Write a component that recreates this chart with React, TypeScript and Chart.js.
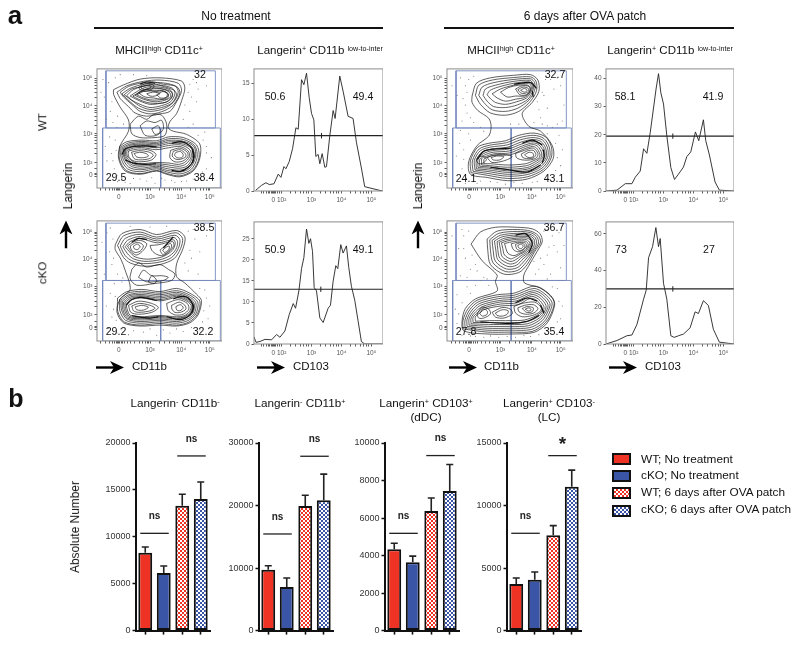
import React, { useEffect, useRef } from "react";
import { Chart, registerables } from "chart.js";

Chart.register(...registerables);

const FONT = '"Liberation Sans", Arial, sans-serif';

// ---------- flow-cytometry contours, read in channel units (x, y, x, y, ...) ----------
const contoursWTNone: number[][] = [
  [50,308,80,323,130,341,190,345,255,335,265,313,255,273,240,233,220,208,215,188,230,178,270,168,310,138,310,93,290,53,250,35,210,43,180,53,130,43,85,53,65,93,70,133,95,178,95,213,70,253,50,293],
  [60,300,90,320,140,334,190,338,245,328,255,305,240,270,220,240,190,232,150,225,115,235,95,255,70,280],
  [70,300,95,318,130,328,165,333,200,325,240,318,250,298,232,262,205,243,165,232,130,240,105,262,80,285],
  [75,295,100,312,140,325,190,330,235,320,245,300,230,268,200,248,160,240,125,250,100,270],
  [82,292,105,310,140,318,170,326,200,318,232,306,240,292,226,266,195,252,160,246,130,256,108,272],
  [90,290,110,308,145,320,190,322,228,312,235,295,222,270,195,258,160,252,130,262,105,275],
  [100,288,125,305,150,316,190,316,222,306,228,290,215,272,190,265,160,262,130,272],
  [108,288,128,300,155,312,190,312,225,300,225,283,205,268,175,265,150,268,125,278],
  [115,290,135,305,165,310,195,310,218,300,222,285,205,275,175,270,140,278],
  [120,292,140,302,165,304,195,305,216,294,208,282,188,276,160,276,135,284],
  [125,298,150,308,175,302,200,304,215,292,212,280,195,278,170,282,145,285],
  [150,295,168,300,190,296,175,288,160,288],
  [125,315,150,328,172,320,160,306,135,304],
  [132,316,150,323,164,317,152,310,138,309],
  [180,292,198,302,212,296,208,284,192,282],
  [100,200,125,225,150,215,170,230,195,228,210,200,205,165,175,158,130,158,105,170],
  [130,195,150,210,175,205,195,212,200,185,180,165,145,165],
  [165,185,185,195,190,175,175,168],
  [68,130,90,145,135,150,180,148,215,160,260,158,300,135,308,95,288,55,250,38,212,45,180,55,130,45,88,55,68,90],
  [72,128,95,141,135,146,180,143,215,154,260,152,295,132,302,95,284,58,250,44,212,50,180,60,130,51,92,60,73,92],
  [76,126,98,137,135,142,180,139,215,149,258,147,292,130,297,95,280,62,250,50,212,55,180,64,130,57,96,65,77,95],
  [80,124,100,134,135,138,180,135,215,144,256,143,288,127,292,95,277,66,250,56,214,60,180,68,130,62,100,70,81,97],
  [83,122,103,131,135,135,180,131,216,139,254,139,285,124,288,97,273,70,250,62,215,66,180,72,130,68,103,74,84,98],
  [86,120,105,128,135,131,180,126,216,133,252,135,280,120,284,97,268,75,248,68,216,72,180,76,130,72,106,78,87,100],
  [90,118,110,125,135,127,178,120,216,126,250,130,275,116,279,98,264,80,245,74,218,78,178,80,130,76,110,82,91,100],
  [95,116,125,122,160,118,178,105,165,88,130,82,108,86,95,100],
  [104,112,125,117,155,113,170,103,158,92,130,88,112,92],
  [112,108,128,112,148,108,155,100,140,95,120,97],
  [222,118,250,125,272,112,274,98,258,84,235,82,220,95],
  [230,115,250,120,266,108,268,98,252,90,238,90,227,100],
  [238,112,252,114,260,104,256,95,242,95,234,103],
];
const contoursKONone: number[][] = [
  [55,302,75,337,130,350,180,334,240,347,265,327,260,292,240,242,240,202,265,182,300,147,315,127,305,82,280,57,240,47,190,50,130,47,80,57,60,92,70,132,100,162,85,222,72,257,55,287],
  [62,300,80,330,130,342,180,326,238,340,258,322,252,290,232,258,190,240,140,235,100,245,80,262],
  [70,298,85,322,130,335,180,320,235,332,250,318,245,290,225,262,190,248,140,243,105,252,85,268],
  [78,296,92,316,130,328,182,314,232,325,243,312,238,288,220,268,190,255,145,250,110,258,92,274],
  [85,296,100,312,130,322,182,308,230,318,236,308,230,288,212,272,190,262,150,257,115,264,98,280],
  [92,298,108,310,130,316,150,305,140,285,120,270,105,278],
  [100,298,115,308,130,308,140,298,130,282,115,278,104,285],
  [110,298,122,304,130,296,122,287,112,290],
  [160,300,185,302,228,312,232,300,222,285,200,268,180,272,165,285],
  [190,285,205,298,222,306,225,295,212,278,198,272],
  [198,285,208,294,218,298,216,286,204,278],
  [105,225,125,245,150,232,190,240,215,225,235,210,225,190,170,180,120,175,100,195],
  [125,200,140,222,165,205,195,205,215,200,200,190,150,186],
  [155,185,165,205,180,190,172,180],
  [62,135,90,155,135,162,190,155,240,165,280,150,310,125,303,85,278,60,240,50,190,55,130,50,82,60,63,92],
  [68,130,92,150,135,156,190,150,240,158,278,145,304,122,298,85,274,64,240,56,190,60,130,56,86,65,69,95],
  [72,128,95,145,135,151,190,145,240,153,275,141,298,120,293,85,270,68,240,61,190,65,130,61,90,69,74,97],
  [76,125,98,142,135,146,190,140,240,148,272,138,293,118,289,87,267,72,240,66,190,69,130,66,92,72,78,98],
  [80,122,100,138,135,142,190,135,240,144,270,134,290,116,285,88,265,74,240,70,190,73,130,70,95,75,82,100],
  [84,120,102,134,135,139,190,130,240,140,268,131,287,114,282,90,263,76,240,72,190,77,130,73,97,78,86,102],
  [88,118,105,130,135,135,190,126,240,136,266,128,284,112,279,92,262,79,240,76,190,80,130,76,100,81,90,103],
  [95,112,125,125,165,118,185,105,165,90,125,84,102,90],
  [105,110,128,118,160,112,175,103,158,94,125,90,110,95],
  [115,107,135,112,155,106,140,97,120,98],
  [210,118,245,130,272,118,277,100,260,84,235,82,215,95],
  [225,112,248,122,265,112,268,100,252,90,235,90,226,100],
  [238,108,252,114,260,104,250,95,240,98],
];
const contoursWTPatch: number[][] = [
  [75,288,88,328,130,345,200,353,250,355,272,338,275,303,255,268,225,233,245,193,280,178,315,133,318,93,290,53,240,28,180,23,120,33,70,43,65,83,90,133,125,163,132,193,125,218,92,243,75,268],
  [85,290,95,322,135,338,200,346,250,348,266,335,268,305,250,272,215,240,175,228,130,235,100,262],
  [95,290,105,316,140,330,200,340,250,342,262,330,262,305,245,275,212,250,175,240,135,245,110,268],
  [108,290,115,310,145,322,200,334,248,337,258,326,257,305,242,278,210,260,175,252,140,255,120,272],
  [120,292,128,305,150,315,200,328,246,332,255,322,253,305,238,282,208,270,175,262,145,268,130,280],
  [135,295,160,310,200,322,244,328,252,318,250,305,235,285,205,278,175,272,150,282],
  [160,300,185,315,215,322,242,322,250,312,245,298,232,288,205,288,180,285],
  [205,310,225,320,245,318,248,305,238,292,218,292],
  [212,308,228,316,243,312,244,303,232,296,220,298],
  [220,306,232,312,240,306,232,300],
  [72,48,70,85,92,128,125,140,175,148,215,165,260,172,295,160,312,130,312,95,288,58,240,35,180,30,120,40],
  [78,52,76,85,96,122,128,134,178,142,218,158,260,165,290,155,306,128,307,95,284,62,240,42,180,37,120,46],
  [84,56,82,87,100,117,130,128,180,135,220,151,258,158,286,150,301,125,301,95,280,66,240,48,180,43,120,52],
  [88,60,88,88,104,112,133,122,182,128,222,144,258,152,282,145,296,122,296,95,276,70,240,54,180,49,122,57],
  [93,64,93,90,108,107,135,117,184,122,224,138,258,146,278,140,292,118,291,95,272,74,240,59,180,54,124,62],
  [98,68,98,90,112,103,138,112,186,116,226,132,258,141,275,135,288,114,286,95,268,78,240,64,180,59,126,66],
  [104,72,104,92,116,99,140,107,188,110,228,127,258,136,272,130,283,110,281,95,264,82,238,70,180,65,128,70],
  [110,76,112,92,140,102,190,104,230,122,256,130,268,125,278,106,276,95,260,86,235,76,180,72,130,76],
  [205,108,232,118,258,125,272,108,268,95,250,88,225,88,208,95],
  [222,106,240,116,258,118,266,105,258,94,238,92,226,96],
  [232,104,246,112,258,108,258,98,242,96],
  [120,95,140,103,175,105,195,98,170,85,135,80],
  [132,95,148,100,170,98,158,88,138,88],
  [88,85,92,95,106,100,118,90,108,78,95,76],
];
const contoursKOPatch: number[][] = [
  [72,304,100,342,145,357,210,357,255,352,278,337,285,312,270,282,245,237,230,207,232,182,280,167,315,137,322,112,300,57,260,27,190,22,120,22,50,32,45,62,55,102,85,132,150,157,145,187,150,207,105,252],
  [120,320,150,345,210,350,250,345,272,332,280,310,262,280,240,240,215,215,170,210,130,240,122,285],
  [128,318,155,338,210,344,250,340,268,328,274,308,258,280,236,246,212,222,175,218,138,245,130,285],
  [135,316,160,332,210,338,248,335,264,324,268,306,254,280,232,252,210,230,178,226,145,250,138,285],
  [142,314,165,327,210,333,246,331,260,320,262,304,250,280,228,258,208,238,182,234,152,255,146,286],
  [150,312,170,322,210,328,244,327,256,316,256,302,246,280,224,263,206,246,186,242,158,260,152,287],
  [156,310,175,318,210,323,240,323,252,312,250,300,242,282,222,268,204,254,188,250,165,265,160,288],
  [163,308,180,314,208,319,238,318,248,308,245,298,238,284,220,273,202,262,190,258,172,270,167,290],
  [172,306,188,310,210,314,236,313,243,304,240,294,233,284,218,276,200,268,182,276],
  [192,305,212,310,234,308,238,298,228,286,212,280,198,288],
  [205,303,220,308,232,302,232,292,220,284,208,290],
  [212,300,222,304,228,298,222,290,214,293],
  [48,38,48,65,62,100,90,128,150,145,200,150,260,172,295,155,320,125,315,95,295,58,255,30,190,28,120,28],
  [54,42,54,66,68,98,94,123,152,139,202,144,260,165,290,150,314,122,309,95,290,60,252,36,190,34,120,34],
  [60,46,60,68,74,96,98,118,154,133,204,138,258,158,286,146,308,118,303,95,285,64,248,42,190,40,120,40],
  [66,50,66,70,80,94,102,113,156,127,206,132,256,152,282,141,302,115,298,95,280,68,244,48,190,46,122,46],
  [72,54,72,72,86,92,106,108,158,122,208,126,254,146,278,136,296,112,293,95,276,72,240,54,190,52,124,52],
  [78,58,78,74,92,90,110,104,160,116,210,120,252,140,274,131,290,108,288,95,272,76,236,60,190,58,126,58],
  [85,62,85,76,98,88,114,100,162,110,212,114,250,134,270,126,285,104,283,93,268,80,232,66,190,64,128,64],
  [90,84,105,106,125,100,130,85,110,72,95,72],
  [98,86,108,100,120,95,120,84,106,78],
  [135,90,165,105,190,100,195,85,170,72,145,75],
  [145,88,165,98,183,95,180,84,165,78,150,80],
  [200,108,225,118,262,122,282,105,278,92,255,80,225,76,205,88],
  [212,104,232,112,258,114,272,102,260,88,235,84,215,92],
  [225,102,240,108,258,104,255,92,238,90],
  [234,100,245,104,252,98,244,94],
];

// ---------- the darkest contour bands, where lines merge ----------
const rimsWTNone = [
  [75,105,85,122,110,130,145,132,180,128],
  [85,88,110,78,145,74,178,76],
  [225,140,255,145,280,132,292,110,290,85,275,65,252,52,225,55],
  [287,118,292,100,288,78],
  [130,326,150,332,175,328],
];
const rimsKONone = [
  [88,112,105,130,130,137,160,132,180,127],
  [105,80,135,74,160,72,185,76],
  [230,132,255,140,275,135,290,107,280,82,250,67,210,77],
  [288,118,291,105,286,88],
  [200,292,230,327],
  [105,310,125,322,150,318],
];
const rimsWTPatch = [
  [288,120,291,100,285,78],
  [200,325,250,330,268,312],
  [255,305,258,285],
  [130,65,180,58,240,50,280,72],
  [90,90,110,115,140,122,190,125],
  [225,140,255,150,285,135],
];
const rimsKOPatch = [
  [205,332,235,337,255,307,245,277],
  [280,112,290,87],
  [205,120,240,135,270,125],
  [100,60,190,55,240,62,275,80],
];

// ---------- scattered events outside the contours ----------
const dotsWTNone = [12,300,22,285,35,330,40,240,28,215,48,205,60,190,38,160,25,130,44,108,30,85,52,60,40,25,62,20,85,18,110,30,150,22,175,15,205,25,235,18,270,22,310,30,330,60,345,95,330,130,325,175,290,200,280,240,300,270,275,300,330,320,290,340,70,355,110,355,150,352,18,340,55,345,45,270,62,225,80,200,55,150,58,118,48,85,60,40,75,30,100,14,130,28,165,32,195,30,225,24,255,20,290,28,318,50,330,110,320,150,305,165,275,190,260,215,265,260,285,285,305,310,280,325,300,330];
const dotsKONone = [15,310,30,340,38,280,45,240,22,210,52,180,40,150,28,110,45,75,35,40,60,25,95,20,140,28,180,18,220,25,260,30,310,35,335,70,340,110,325,160,290,190,275,220,305,210,285,260,310,280,330,330,290,350,100,360,160,358,75,185,48,320,40,355,62,210,78,198,55,140,50,100,58,65,72,38,110,32,160,38,200,35,240,38,285,42,318,60,322,95,330,135,310,165,265,245,280,285,295,320,275,345,210,360,50,260];
const dotsWTPatch = [15,320,30,290,40,345,55,260,45,210,65,170,38,140,28,100,45,60,55,15,90,15,130,20,175,12,225,15,270,20,320,35,340,70,345,120,335,165,300,195,280,220,300,250,290,290,320,310,330,345,295,340,60,300,70,220,100,190,190,200,260,205,275,245,40,180,50,120,330,200,350,260,65,340,55,320,80,350,48,280,60,235,80,205,110,178,70,150,50,90,58,30,100,22,150,18,200,18,255,18,300,30,325,55,330,95,325,140,300,170,315,190,285,200,270,270,285,300,310,340,340,320,345,210,215,200];
const dotsKOPatch = [15,330,35,290,45,350,55,260,70,225,40,205,60,170,30,145,25,100,30,55,45,18,85,14,130,16,180,14,230,18,275,20,320,40,340,70,345,110,330,165,300,195,265,210,290,240,300,270,320,300,335,340,300,350,90,220,110,200,85,175,125,175,60,200,340,230,260,250,310,210,345,190,50,330,65,345,50,290,75,270,85,240,100,190,120,195,70,150,45,120,35,85,38,30,70,16,110,12,155,12,205,12,250,14,300,30,330,60,335,125,315,170,285,190,275,225,280,260,305,295,315,330,290,345,330,280,350,300];

// ---------- gates ----------
const gateTop = [27, 188, 357, 367];
const gateTopKO = [27, 190, 357, 370];
const gateSplitX = 192;
const gateLeft = 17;
const gateRight = 372;
const gateBottom = 0;

// ---------- contour axes ----------
const contourXTicks = [66, 160, 254, 340];
const contourYTicksTop = [343, 257, 170, 79, 41];
const contourYTicksBottom = [342, 257, 172, 82, 41];
const contourXLabels = ["0", "10³", "10⁴", "10⁵"];
const contourYLabels = ["10⁵", "10⁴", "10³", "10²", "0"];
const contourXMinor = [12, 26, 38, 48, 54, 59, 63, 69, 73, 78, 84, 92, 102, 114, 128, 138, 146, 152, 156, 188, 205, 218, 230, 238, 244, 249, 282, 298, 311, 322, 330, 336];
const contourYMinor = [108, 125, 140, 150, 158, 164, 196, 212, 225, 235, 243, 250, 283, 300, 312, 322, 330, 337, 60, 35, 46];

// ---------- histograms (x in channel units, y = % of max) ----------
const histWTNoneX = [5,23,36,46,60,73,81,90,96,106,116,126,133,143,150,158,166,173,180,186,193,198,205,213,218,228,238,244,258,268,283,298,308,323,333,386];
const histWTNoneY = [0.1,0.8,1.15,0.9,1,2.35,1.9,3.4,3.1,4.1,5.9,8.8,8.6,15.5,14.8,16.4,13,10.8,9.9,4.8,5.1,3.8,5.2,3.3,3.4,7.7,11.2,10.1,16,13.9,10.4,10.1,6.8,3.2,0.6,0];
const histKONoneX = [0,6,18,33,53,68,78,93,106,118,125,135,143,150,158,165,170,176,181,188,198,208,223,230,238,246,252,261,268,278,285,293,303,313,323,333,386];
const histKONoneY = [1.7,0.4,0.6,1.1,1,2.25,1.6,3.1,7,9.6,8.5,12.6,17.9,20.5,27.3,23.9,25,22,13.4,12.6,6.2,5.1,8.5,9.2,14.9,18.6,17.9,23.6,21.6,23.3,18.2,13.7,10.4,5.5,0.6,0,0];
const histWTPatchX = [0,33,58,78,88,103,113,123,133,151,158,165,173,183,195,206,218,233,243,255,269,279,293,300,311,328,341,385];
const histWTPatchY = [0,0.3,2.6,2.6,4.9,7.1,15,13.4,20.7,36.6,41.7,34.9,30.9,19.6,8.3,4.1,6,8.5,12.2,13.9,21,17.9,25.3,17.9,12.8,3.2,0.3,0];
const histKOPatchX = [0,33,63,78,93,113,121,128,140,150,158,163,173,183,195,205,218,233,253,268,278,293,308,323,341,385];
const histKOPatchY = [0,1.9,4.5,4.9,10.6,24.4,29.3,47,53,63.4,53,57.4,33,24.4,4.5,3.6,4.5,5.4,8.8,17.5,16.6,23.6,21,8,1,0];
const histXTicks = [58, 83, 173, 263, 353];
const histXLabels = ["0", "10²", "10³", "10⁴", "10⁵"];
const histXMinor = [22, 30, 37, 43, 48, 52, 55, 61, 65, 70, 76, 110, 126, 140, 150, 158, 165, 200, 216, 230, 240, 248, 255, 290, 306, 320, 330, 338, 345];

// ---------- bars ----------
const barCategories = ["WT; No treatment", "cKO; No treatment", "WT; 6 days after OVA patch", "cKO; 6 days after OVA patch"];
const bars1 = [8290, 6140, 13300, 14040];
const bars1Err = [8920, 6880, 14530, 15840];
const bars2 = [9740, 6980, 19940, 20850];
const bars2Err = [10370, 8410, 21640, 25030];
const bars3 = [4340, 3650, 6380, 7440];
const bars3Err = [4660, 3970, 7070, 8850];
const bars4 = [3730, 4070, 7620, 11510];
const bars4Err = [4210, 4680, 8390, 12830];
const sig1 = [10370, 18620];
const sig2 = [15450, 27880];
const sig3 = [5185, 9330];
const sig4 = [7780, 13990];
const sigLabels4 = ["ns", "*"];
const sigLabels = ["ns", "ns"];

const RED = "#EE3324";
const BLUE = "#3A55A5";
const INK = "#111111";

function pairs(flat: number[]) {
  const out: { x: number; y: number }[] = [];
  for (let i = 0; i < flat.length; i += 2) out.push({ x: flat[i], y: flat[i + 1] });
  return out;
}

function rect(l: number, b: number, r: number, t: number) {
  return [{ x: l, y: b }, { x: r, y: b }, { x: r, y: t }, { x: l, y: t }, { x: l, y: b }];
}

const framePlugin = {
  id: "frame",
  afterDraw(chart: any) {
    const { ctx, chartArea: a } = chart;
    ctx.save();
    ctx.strokeStyle = "#8b8b8b";
    ctx.lineWidth = 1;
    ctx.strokeRect(a.left, a.top, a.right - a.left, a.bottom - a.top);
    ctx.restore();
  },
};

function fixedAxis(size: number, vertical: boolean) {
  return (s: any) => {
    if (vertical) s.width = size;
    else s.height = size;
  };
}

function tickedScale(opts: {
  max: number;
  majors: number[];
  labels: string[];
  minors: number[];
  vertical: boolean;
  size: number;
}) {
  return {
    type: "linear",
    min: 0,
    max: opts.max,
    afterBuildTicks: (s: any) => {
      s.ticks = [...opts.majors, ...opts.minors].map((value) => ({ value }));
    },
    afterFit: fixedAxis(opts.size, opts.vertical),
    ticks: {
      autoSkip: false,
      maxRotation: 0,
      padding: opts.vertical ? 2 : 3,
      color: "#555",
      font: { size: 6.5, family: FONT },
      callback: (v: number) => {
        const i = opts.majors.indexOf(v);
        return i >= 0 ? opts.labels[i] : "";
      },
    },
    grid: { drawOnChartArea: false, tickLength: 2.5, tickColor: "#333", tickWidth: 0.8 },
    border: { display: false },
  };
}

function contourConfig(rings: number[][], rims: number[][], dots: number[], top: number[], yMax: number, yTicks: number[]) {
  const lineStyle = { showLine: true, pointRadius: 0, tension: 0.3, borderColor: "#1c1c1c", borderWidth: 0.7 };
  const gateStyle = { showLine: true, pointRadius: 0, tension: 0, borderColor: "#7589bd", borderWidth: 0.9 };
  const datasets: any[] = [
    { data: pairs(dots), showLine: false, pointRadius: 0.55, pointBackgroundColor: "#777", pointBorderWidth: 0 },
  ];
  rings.forEach((r) => {
    const pts = pairs(r);
    datasets.push({ ...lineStyle, data: [...pts, pts[0]] });
  });
  rims.forEach((r) => {
    datasets.push({ ...lineStyle, borderWidth: 1.2, borderColor: "#0a0a0a", data: pairs(r) });
  });
  datasets.push({ ...gateStyle, data: rect(top[0], top[1], top[2], top[3]) });
  datasets.push({ ...gateStyle, data: rect(gateLeft, gateBottom, gateSplitX, top[1]) });
  datasets.push({ ...gateStyle, data: rect(gateSplitX, gateBottom, gateRight, top[1]) });
  return {
    type: "scatter",
    data: { datasets },
    plugins: [framePlugin],
    options: {
      animation: false,
      responsive: false,
      layout: { autoPadding: false, padding: 0 },
      plugins: { legend: { display: false }, tooltip: { enabled: false } },
      scales: {
        x: tickedScale({ max: 377, majors: contourXTicks, labels: contourXLabels, minors: contourXMinor, vertical: false, size: 18 }),
        y: tickedScale({ max: yMax, majors: yTicks, labels: contourYLabels, minors: contourYMinor, vertical: true, size: 30 }),
      },
    },
  };
}

function histConfig(xs: number[], ys: number[], xMax: number, yMax: number, yTicks: number[], level: number, mark: number) {
  const line = xs.map((x, i) => ({ x, y: ys[i] }));
  const capH = yMax * 0.022;
  const gate = { showLine: true, pointRadius: 0, borderColor: "#222", borderWidth: 1.2 };
  return {
    type: "scatter",
    data: {
      datasets: [
        { data: line, showLine: true, pointRadius: 0, borderColor: "#222", borderWidth: 0.9, tension: 0 },
        { ...gate, data: [{ x: 0, y: level }, { x: xMax, y: level }] },
        { ...gate, borderWidth: 1, data: [{ x: mark, y: level - capH }, { x: mark, y: level + capH }] },
      ],
    },
    plugins: [framePlugin],
    options: {
      animation: false,
      responsive: false,
      layout: { autoPadding: false, padding: 0 },
      plugins: { legend: { display: false }, tooltip: { enabled: false } },
      scales: {
        x: tickedScale({ max: xMax, majors: histXTicks, labels: histXLabels, minors: histXMinor, vertical: false, size: 18 }),
        y: tickedScale({ max: yMax, majors: yTicks, labels: yTicks.map(String), minors: [], vertical: true, size: 30 }),
      },
    },
  };
}

function checker(color: string) {
  const c = document.createElement("canvas");
  c.width = 4;
  c.height = 4;
  const g = c.getContext("2d")!;
  g.fillStyle = "#fff";
  g.fillRect(0, 0, 4, 4);
  g.fillStyle = color;
  g.fillRect(0, 0, 2, 2);
  g.fillRect(2, 2, 2, 2);
  return g.createPattern(c, "repeat");
}

function barConfig(values: number[], errs: number[], yMax: number, step: number, sig: number[], labels: string[]) {
  const annotate = {
    id: "annotate",
    afterDatasetsDraw(chart: any) {
      const { ctx, scales } = chart;
      const { x, y } = scales;
      ctx.save();
      ctx.strokeStyle = "#222";
      ctx.lineCap = "butt";
      values.forEach((v, i) => {
        const px = x.getPixelForValue(i);
        const y1 = y.getPixelForValue(v);
        const y2 = y.getPixelForValue(errs[i]);
        ctx.lineWidth = 1.6;
        ctx.beginPath();
        ctx.moveTo(px, y1);
        ctx.lineTo(px, y2);
        ctx.moveTo(px - 3.5, y2);
        ctx.lineTo(px + 3.5, y2);
        ctx.stroke();
      });
      sig.forEach((level, k) => {
        const a = x.getPixelForValue(k * 2) - 5;
        const b = x.getPixelForValue(k * 2 + 1) + 5;
        const py = y.getPixelForValue(level);
        ctx.lineWidth = 1.3;
        ctx.beginPath();
        ctx.moveTo(a, py);
        ctx.lineTo(b, py);
        ctx.stroke();
        const star = labels[k] === "*";
        ctx.fillStyle = "#222";
        ctx.font = `bold ${star ? 19 : 10}px ${FONT}`;
        ctx.textAlign = "center";
        ctx.textBaseline = "middle";
        ctx.fillText(labels[k], (a + b) / 2, py + (star ? -11 : -17));
      });
      ctx.restore();
    },
  };
  return {
    type: "bar",
    data: {
      labels: barCategories,
      datasets: [
        {
          data: values,
          backgroundColor: [RED, BLUE, checker(RED), checker(BLUE)],
          borderColor: INK,
          borderWidth: 2,
          borderSkipped: false,
          barPercentage: 0.75,
          categoryPercentage: 1,
        },
      ],
    },
    plugins: [annotate],
    options: {
      animation: false,
      responsive: false,
      layout: { autoPadding: false, padding: { top: 13, left: 0, right: 1, bottom: 0 } },
      plugins: { legend: { display: false }, tooltip: { enabled: false } },
      scales: {
        x: {
          afterFit: fixedAxis(6, false),
          ticks: { callback: () => "", padding: 0, maxRotation: 0, autoSkip: false },
          grid: { offset: false, drawOnChartArea: false, tickLength: 4, tickColor: INK, tickWidth: 1.6 },
          border: { color: INK, width: 2 },
        },
        y: {
          min: 0,
          max: yMax,
          afterFit: fixedAxis(36, true),
          ticks: { stepSize: step, padding: 2, color: "#333", font: { size: 9, family: FONT }, callback: (v: number) => String(v) },
          grid: { drawOnChartArea: false, tickLength: 3.5, tickColor: INK, tickWidth: 1.5 },
          border: { color: INK, width: 2 },
        },
      },
    },
  };
}

function Panel({ left, top, width, height, make }: { left: number; top: number; width: number; height: number; make: () => any }) {
  const ref = useRef<HTMLCanvasElement>(null);
  useEffect(() => {
    const chart = new Chart(ref.current!, make());
    return () => chart.destroy();
  }, []);
  return <canvas ref={ref} width={width} height={height} style={{ position: "absolute", left, top, width, height }} />;
}

function T({ x, y, size = 11, bold, rot, left, children }: any) {
  return (
    <div
      style={{
        position: "absolute",
        left: x,
        top: y,
        transform: `translate(${left ? "0" : "-50%"},-50%)${rot ? ` rotate(${rot}deg)` : ""}`,
        willChange: "transform",
        fontFamily: FONT,
        fontSize: size,
        fontWeight: bold ? 700 : 400,
        lineHeight: 1,
        whiteSpace: "nowrap",
        color: "#111",
        textAlign: "center",
      }}
    >
      {children}
    </div>
  );
}

const Sup = ({ children }: any) => (
  <span style={{ fontSize: "0.62em", position: "relative", top: "-0.42em" }}>{children}</span>
);

function Arrow({ x, y, up }: { x: number; y: number; up?: boolean }) {
  return (
    <svg
      width={28}
      height={13}
      style={{ position: "absolute", left: x, top: y, transform: up ? "rotate(-90deg)" : undefined }}
    >
      <rect x={0} y={5.3} width={22} height={2.4} fill="#000" />
      <polygon points="14,0 28,6.5 14,13 18,6.5" fill="#000" />
    </svg>
  );
}

function Swatch({ y, color, pattern }: { y: number; color: string; pattern?: boolean }) {
  return (
    <div
      style={{
        position: "absolute",
        left: 612,
        top: y,
        width: 19,
        height: 12,
        boxSizing: "border-box",
        border: "2px solid #111",
        background: pattern ? `repeating-conic-gradient(${color} 0 25%, #fff 0 50%) 0 0/4px 4px` : color,
      }}
    />
  );
}

const Rule = ({ x, w, y, h = 1.6 }: any) => (
  <div style={{ position: "absolute", left: x, top: y, width: w, height: h, background: "#111" }} />
);

const flowTitle = (
  <>
    MHCII<Sup>high</Sup> CD11c<Sup>+</Sup>
  </>
);
const histTitle = (
  <>
    Langerin<Sup>+</Sup> CD11b <Sup>low-to-inter</Sup>
  </>
);

export default function App() {
  return (
    <div style={{ position: "absolute", left: 0, top: 0, width: 800, height: 646, overflow: "hidden", background: "#fff" }}>
      <Panel left={67} top={63} width={155} height={143} make={() => contourConfig(contoursWTNone, rimsWTNone, dotsWTNone, gateTop, 373, contourYTicksTop)} />
      <Panel left={67} top={215} width={155} height={144} make={() => contourConfig(contoursKONone, rimsKONone, dotsKONone, gateTopKO, 377, contourYTicksBottom)} />
      <Panel left={417} top={63} width={156} height={143} make={() => contourConfig(contoursWTPatch, rimsWTPatch, dotsWTPatch, gateTop, 373, contourYTicksTop)} />
      <Panel left={417} top={215} width={156} height={144} make={() => contourConfig(contoursKOPatch, rimsKOPatch, dotsKOPatch, gateTopKO, 377, contourYTicksBottom)} />

      <Panel left={224} top={63} width={159} height={146} make={() => histConfig(histWTNoneX, histWTNoneY, 388, 17, [0, 5, 10, 15], 7.7, 203)} />
      <Panel left={224} top={216} width={159} height={146} make={() => histConfig(histKONoneX, histKONoneY, 388, 29, [0, 5, 10, 15, 20, 25], 13, 201)} />
      <Panel left={576} top={63} width={158} height={146} make={() => histConfig(histWTPatchX, histWTPatchY, 385, 43.4, [0, 10, 20, 30, 40], 19.5, 201)} />
      <Panel left={576} top={216} width={158} height={146} make={() => histConfig(histKOPatchX, histKOPatchY, 385, 66.5, [0, 20, 40, 60], 30, 201)} />

      <Panel left={100} top={430} width={111} height={208} make={() => barConfig(bars1, bars1Err, 20000, 5000, sig1, sigLabels)} />
      <Panel left={223} top={430} width={111} height={208} make={() => barConfig(bars2, bars2Err, 30000, 10000, sig2, sigLabels)} />
      <Panel left={349} top={430} width={111} height={208} make={() => barConfig(bars3, bars3Err, 10000, 2000, sig3, sigLabels)} />
      <Panel left={471} top={430} width={111} height={208} make={() => barConfig(bars4, bars4Err, 15000, 5000, sig4, sigLabels4)} />

      <T x={15} y={15} size={26} bold>a</T>
      <T x={16} y={398} size={25} bold>b</T>

      <T x={236} y={16} size={12}>No treatment</T>
      <Rule x={94} w={289} y={27} />
      <T x={585} y={16} size={12}>6 days after OVA patch</T>
      <Rule x={444} w={290} y={27} />

      <T x={159} y={51} size={11.5}>{flowTitle}</T>
      <T x={320} y={51} size={11.5}>{histTitle}</T>
      <T x={511} y={51} size={11.5}>{flowTitle}</T>
      <T x={670} y={51} size={11.5}>{histTitle}</T>

      <T x={43} y={122} size={11.5} rot={-90}>WT</T>
      <T x={43} y={273} size={11.5} rot={-90}>cKO</T>
      <T x={68} y={186} size={12} rot={-90}>Langerin</T>
      <T x={418} y={186} size={12} rot={-90}>Langerin</T>
      <Arrow x={52} y={228} up />
      <Arrow x={404} y={228} up />

      <Arrow x={96} y={361} />
      <T x={132} y={367} size={11.5} left>CD11b</T>
      <Arrow x={257} y={361} />
      <T x={293} y={367} size={11.5} left>CD103</T>
      <Arrow x={449} y={361} />
      <T x={484} y={367} size={11.5} left>CD11b</T>
      <Arrow x={609} y={361} />
      <T x={645} y={367} size={11.5} left>CD103</T>

      <T x={200} y={74} size={10.6}>32</T>
      <T x={116} y={177} size={10.6}>29.5</T>
      <T x={204} y={177} size={10.6}>38.4</T>
      <T x={275} y={96} size={10.6}>50.6</T>
      <T x={363} y={96} size={10.6}>49.4</T>
      <T x={204} y={227} size={10.6}>38.5</T>
      <T x={116} y={331} size={10.6}>29.2</T>
      <T x={203} y={331} size={10.6}>32.2</T>
      <T x={275} y={249} size={10.6}>50.9</T>
      <T x={363} y={249} size={10.6}>49.1</T>
      <T x={555} y={74} size={10.6}>32.7</T>
      <T x={466} y={178} size={10.6}>24.1</T>
      <T x={554} y={178} size={10.6}>43.1</T>
      <T x={625} y={96} size={10.6}>58.1</T>
      <T x={713} y={96} size={10.6}>41.9</T>
      <T x={554} y={227} size={10.6}>36.7</T>
      <T x={466} y={331} size={10.6}>27.8</T>
      <T x={554} y={331} size={10.6}>35.4</T>
      <T x={621} y={249} size={10.6}>73</T>
      <T x={709} y={249} size={10.6}>27</T>

      <T x={175} y={403} size={11.7}>Langerin<Sup>-</Sup> CD11b<Sup>-</Sup></T>
      <T x={300} y={403} size={11.7}>Langerin<Sup>-</Sup> CD11b<Sup>+</Sup></T>
      <T x={426} y={403} size={11.7}>Langerin<Sup>+</Sup> CD103<Sup>+</Sup></T>
      <T x={426} y={417} size={11.7}>(dDC)</T>
      <T x={549} y={403} size={11.7}>Langerin<Sup>+</Sup> CD103<Sup>-</Sup></T>
      <T x={549} y={417} size={11.7}>(LC)</T>
      <T x={76} y={527} size={11.9} rot={-90}>Absolute Number</T>

      <Swatch y={453} color={RED} />
      <Swatch y={470} color={BLUE} />
      <Swatch y={487} color={RED} pattern />
      <Swatch y={505} color={BLUE} pattern />
      <T x={641} y={459.5} size={11.8} left>{barCategories[0]}</T>
      <T x={641} y={476} size={11.8} left>{barCategories[1]}</T>
      <T x={641} y={493} size={11.8} left>{barCategories[2]}</T>
      <T x={641} y={510} size={11.8} left>{barCategories[3]}</T>
    </div>
  );
}
